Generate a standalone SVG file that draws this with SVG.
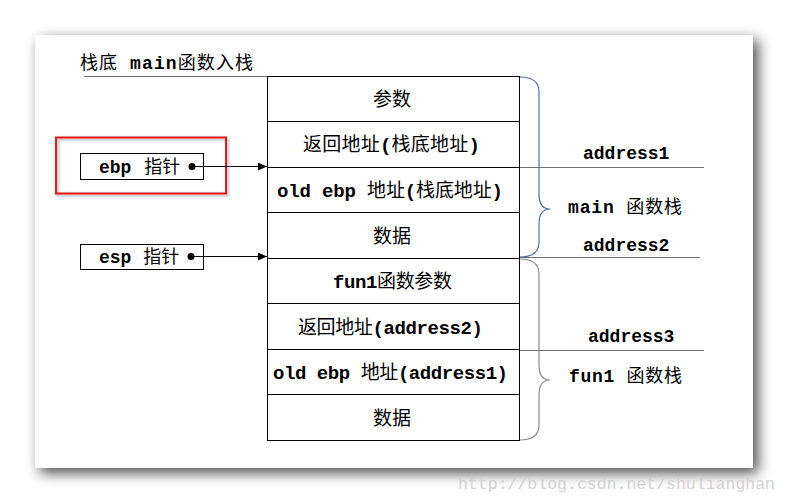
<svg xmlns="http://www.w3.org/2000/svg" width="788" height="504" viewBox="0 0 788 504">
<style>
.t{font-family:'Liberation Mono','Noto Sans CJK SC',monospace;font-weight:bold;fill:#000}
.c{font-family:'Noto Sans CJK SC',sans-serif;font-weight:normal}
.cell{fill:#fff;stroke:#000;stroke-width:1}
.gl{stroke:#707070;stroke-width:1;fill:none}
.box{fill:#fff;stroke:#000;stroke-width:1}
.conn{stroke:#000;stroke-width:1;fill:none}
</style>
<defs>
<filter id="sh" x="-10%" y="-10%" width="125%" height="130%">
<feDropShadow dx="5" dy="5" stdDeviation="7" flood-color="#000" flood-opacity="0.7"/>
</filter>
<filter id="rsh" x="-10%" y="-20%" width="125%" height="150%">
<feDropShadow dx="1.5" dy="1.5" stdDeviation="1.5" flood-color="#000" flood-opacity="0.35"/>
</filter>
<marker id="ah" markerWidth="10" markerHeight="8" refX="9" refY="4" orient="auto" markerUnits="userSpaceOnUse">
<path d="M0,0 L9,4 L0,8 Z" fill="#000"/>
</marker>
</defs>
<rect width="788" height="504" fill="#fff"/>
<rect x="35" y="35" width="718" height="433" fill="#fff" filter="url(#sh)"/>

<g id="title">
<text class="t" x="80" y="69" font-size="18" textLength="173" lengthAdjust="spacing"><tspan class="c">栈底</tspan> main<tspan class="c">函数入栈</tspan></text>
<line class="gl" x1="84" y1="76.5" x2="267" y2="76.5" stroke="#666"/>
</g>

<g id="stack">
<g id="row1"><rect class="cell" x="267.5" y="76.5" width="252" height="45"/><text class="t" x="392" y="106" font-size="19" text-anchor="middle"><tspan class="c">参数</tspan></text></g>
<g id="row2"><rect class="cell" x="267.5" y="121.5" width="252" height="46"/><text class="t" x="303" y="151" font-size="19" textLength="177" lengthAdjust="spacing"><tspan class="c">返回地址</tspan>(<tspan class="c">栈底地址</tspan>)</text></g>
<g id="row3"><rect class="cell" x="267.5" y="167.5" width="252" height="45"/><text class="t" x="277" y="197" font-size="19" textLength="226" lengthAdjust="spacing">old ebp <tspan class="c">地址</tspan>(<tspan class="c">栈底地址</tspan>)</text></g>
<g id="row4"><rect class="cell" x="267.5" y="212.5" width="252" height="46"/><text class="t" x="392" y="243" font-size="19" text-anchor="middle"><tspan class="c">数据</tspan></text></g>
<g id="row5"><rect class="cell" x="267.5" y="258.5" width="252" height="45"/><text class="t" x="333" y="288" font-size="19" textLength="119" lengthAdjust="spacing">fun1<tspan class="c">函数参数</tspan></text></g>
<g id="row6"><rect class="cell" x="267.5" y="303.5" width="252" height="46"/><text class="t" x="298" y="334" font-size="19" textLength="185" lengthAdjust="spacing"><tspan class="c">返回地址</tspan>(address2)</text></g>
<g id="row7"><rect class="cell" x="267.5" y="349.5" width="252" height="45"/><text class="t" x="273" y="379" font-size="19" textLength="235" lengthAdjust="spacing">old ebp <tspan class="c">地址</tspan>(address1)</text></g>
<g id="row8"><rect class="cell" x="267.5" y="394.5" width="252" height="46"/><text class="t" x="392" y="425" font-size="19" text-anchor="middle"><tspan class="c">数据</tspan></text></g>
</g>

<g id="ebp">
<rect x="56" y="137.5" width="170" height="56" fill="none" stroke="#e31c1c" stroke-width="2" filter="url(#rsh)"/>
<rect class="box" x="80.5" y="153.5" width="123" height="26"/>
<text class="t" x="99" y="173" font-size="18">ebp <tspan class="c" dx="2">指针</tspan></text>
<circle cx="192" cy="166.5" r="3.5" fill="#000"/>
</g>

<g id="esp">
<rect class="box" x="80.5" y="244.5" width="123" height="25"/>
<text class="t" x="99" y="263" font-size="18">esp <tspan class="c" dx="1">指针</tspan></text>
<circle cx="191" cy="256.5" r="3.5" fill="#000"/>
</g>

<g id="main-stack">
<path d="M520,77 Q539,77 539,92 L539,194 Q539,209 550,209 Q539,209 539,224 L539,242 Q539,257 520,257" fill="none" stroke="#4f6e9e" stroke-width="1.2"/>
<text class="t" x="568" y="213" font-size="18" textLength="114" lengthAdjust="spacing">main <tspan class="c">函数栈</tspan></text>
</g>

<g id="fun1-stack">
<path d="M520,259 Q539,259 539,274 L539,365 Q539,380 550,380 Q539,380 539,395 L539,425 Q539,440 520,440" fill="none" stroke="#8a8a8a" stroke-width="1.2"/>
<text class="t" x="569" y="382" font-size="18" textLength="113" lengthAdjust="spacing">fun1 <tspan class="c">函数栈</tspan></text>
</g>

<g id="addr1"><line class="gl" x1="520" y1="167.5" x2="704" y2="167.5"/><text class="t" x="583" y="159" font-size="18">address1</text></g>
<g id="addr2"><line class="gl" x1="520" y1="257.5" x2="700" y2="257.5"/><text class="t" x="583" y="251" font-size="18">address2</text></g>
<g id="addr3"><line class="gl" x1="520" y1="350.5" x2="704" y2="350.5"/><text class="t" x="588" y="342" font-size="18">address3</text></g>

<g id="connectors">
<line class="conn" x1="192" y1="166.5" x2="267" y2="166.5" marker-end="url(#ah)"/>
<line class="conn" x1="191" y1="256.5" x2="267" y2="256.5" marker-end="url(#ah)"/>
</g>

<text x="458" y="489" font-family="'Liberation Mono',monospace" font-size="16.5" fill="#d2d2d2" textLength="317" lengthAdjust="spacing">http://blog.csdn.net/shulianghan</text>
</svg>
